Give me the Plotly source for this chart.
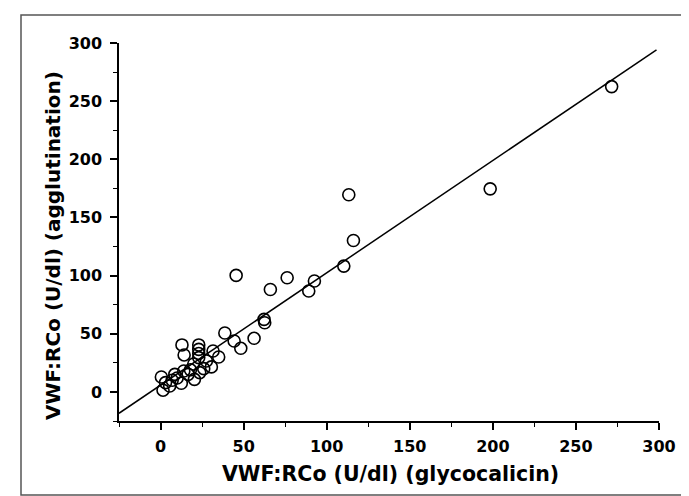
import plotly.graph_objects as go

# Data
glycocalicin = [271.5, 198.4, 113.3, 116.1, 110.3, 92.6, 89.2, 76.2, 66.1, 45.5,
                62.3, 62.7, 56.3, 48.3, 44.3, 38.7, 31.6, 12.9, 14.2, 23.0,
                23.0, 23.0, 23.0, 27.6, 30.6, 26.0, 23.6, 20.4, 16.6, 18.0,
                12.5, 8.6, 5.5, 0.5, 1.5, 3.0, 10.0, 14.0, 20.0, 7.0, 35.0]
agglutination = [262.5, 174.6, 169.5, 130.2, 108.2, 95.4, 86.8, 98.2, 88.1, 100.2,
                 62.4, 59.5, 46.1, 37.5, 43.8, 50.7, 35.2, 40.4, 31.8, 40.4,
                 36.6, 33.0, 29.5, 26.6, 21.5, 20.0, 16.6, 10.8, 15.1, 19.0,
                 7.5, 15.1, 5.1, 12.8, 1.5, 8.0, 12.0, 18.0, 24.0, 10.0, 30.0]

fit_slope = 0.966
fit_intercept = 5.8
fit_x = [-25, 298.5]
fit_y = [fit_slope * v + fit_intercept for v in fit_x]

tick_vals = [0, 50, 100, 150, 200, 250, 300]
x_title = "VWF:RCo (U/dl) (glycocalicin)"
y_title = "VWF:RCo (U/dl) (agglutination)"

fig = go.Figure()
fig.add_trace(go.Scatter(x=fit_x, y=fit_y, mode="lines",
                         line=dict(color="black", width=1.5), showlegend=False))
fig.add_trace(go.Scatter(x=glycocalicin, y=agglutination, mode="markers",
                         marker=dict(symbol="circle-open", size=12, color="black",
                                     line=dict(width=1.6, color="black")),
                         showlegend=False))

font_family = "DejaVu Sans, sans-serif"
axis_common = dict(range=[-25, 300], tickvals=tick_vals, showline=True, linecolor="black",
                   linewidth=1.5, ticks="outside", ticklen=7, tickwidth=1.5, tickcolor="black",
                   showgrid=False, zeroline=False,
                   minor=dict(dtick=25, tick0=0, ticks="outside", ticklen=4, tickwidth=1.2,
                              tickcolor="black", showgrid=False),
                   tickfont=dict(family=font_family, size=16, color="black", weight="bold"))

ml, mr, mt, mb = 111, 38, 35, 83
fig.update_layout(
    width=689, height=496,
    margin=dict(l=ml, r=mr, t=mt, b=mb),
    paper_bgcolor="white", plot_bgcolor="white",
    xaxis=dict(**axis_common, ticklabelstandoff=3),
    yaxis=dict(**axis_common, ticklabelstandoff=5),
)

pw, ph = 689 - ml - mr, 496 - mt - mb
bottom = 496 - mb
fig.add_annotation(text="<b>" + x_title + "</b>", xref="paper", yref="paper",
                   x=(382 - ml) / pw, y=(bottom - 466) / ph, xanchor="center", yanchor="middle",
                   showarrow=False, font=dict(family=font_family, size=20.5, color="black"))
fig.add_annotation(text="<b>" + y_title + "</b>", xref="paper", yref="paper",
                   x=(45 - ml) / pw, y=(bottom - 238) / ph, xanchor="center", yanchor="middle",
                   textangle=-90, showarrow=False,
                   font=dict(family=font_family, size=20, color="black"))

# outer frame
fig.add_shape(type="rect", xref="paper", yref="paper",
              x0=(13 - ml) / pw, x1=(681 - ml) / pw,
              y0=(bottom - 487) / ph, y1=(bottom - 7) / ph,
              line=dict(color="#555555", width=1.5), fillcolor="rgba(0,0,0,0)")

fig.write_html("out.html")
